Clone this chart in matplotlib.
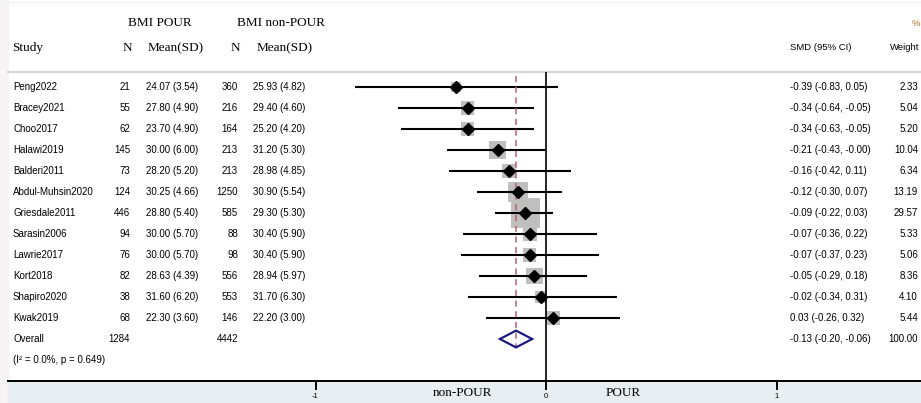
import numpy as np
import matplotlib
matplotlib.use('Agg')
import matplotlib.pyplot as plt
from matplotlib.patches import Polygon, Rectangle

# datos del forest plot
estudios = ["Peng2022", "Bracey2021", "Choo2017", "Halawi2019", "Balderi2011",
            "Abdul-Muhsin2020", "Griesdale2011", "Sarasin2006", "Lawrie2017",
            "Kort2018", "Shapiro2020", "Kwak2019"]
n_pour = [21, 55, 62, 145, 73, 124, 446, 94, 76, 82, 38, 68]
media_pour = [24.07, 27.80, 23.70, 30.00, 28.20, 30.25, 28.80, 30.00, 30.00, 28.63, 31.60, 22.30]
sd_pour = [3.54, 4.90, 4.90, 6.00, 5.20, 4.66, 5.40, 5.70, 5.70, 4.39, 6.20, 3.60]
n_non = [360, 216, 164, 213, 213, 1250, 585, 88, 98, 556, 553, 146]
media_non = [25.93, 29.40, 25.20, 31.20, 28.98, 30.90, 29.30, 30.40, 30.40, 28.94, 31.70, 22.20]
sd_non = [4.82, 4.60, 4.20, 5.30, 4.85, 5.54, 5.30, 5.90, 5.90, 5.97, 6.30, 3.00]
smd = [-0.39, -0.34, -0.34, -0.21, -0.16, -0.12, -0.09, -0.07, -0.07, -0.05, -0.02, 0.03]
ic_inf = [-0.83, -0.64, -0.63, -0.43, -0.42, -0.30, -0.22, -0.36, -0.37, -0.29, -0.34, -0.26]
ic_sup = [0.05, -0.05, -0.05, -0.004, 0.11, 0.07, 0.03, 0.22, 0.23, 0.18, 0.31, 0.32]
peso = [2.33, 5.04, 5.20, 10.04, 6.34, 13.19, 29.57, 5.33, 5.06, 8.36, 4.10, 5.44]

total_pour = 1284
total_non = 4442
smd_global = -0.13
ic_global = (-0.20, -0.06)
peso_global = 100.00
heterogeneidad = "(I² = 0.0%, p = 0.649)"
ticks_x = [-1, 0, 1]

W, H = 921, 403
X0, ESC = 546, 230.5     # pixel del 0 y pixeles por unidad SMD
Y0, PASO = 87, 21        # pixel de la primera fila y altura de fila


def fila(py):
    return (py - Y0) / PASO


def px(x):
    return x / W


fig = plt.figure(figsize=(W / 100, H / 100), dpi=100)
ax = fig.add_axes([0, 0, 1, 1])
ax.set_xlim(-X0 / ESC, (W - X0) / ESC)
ax.set_ylim(fila(H), fila(0))
ax.axis('off')
tr = ax.get_yaxis_transform()

serif = 'Liberation Serif'
sans = 'Liberation Sans'

# fondo: franja izquierda, banda inferior y lineas
ax.add_patch(Rectangle((0, 0), px(8), 1, transform=ax.transAxes, color='#f6f4f4', zorder=0))
ax.add_patch(Rectangle((px(8), fila(H)), 1, fila(381) - fila(H), transform=tr,
                       color='#e8eff2', zorder=0))
ax.plot([px(8), 1], [fila(381), fila(381)], transform=tr, color='black', lw=1.4, zorder=3)
ax.plot([px(8), 1], [fila(72), fila(72)], transform=tr, color='#d6d6d6', lw=1.6, zorder=1)
ax.plot([px(8), 1], [fila(2), fila(2)], transform=tr, color='#eef3f3', lw=1, zorder=1)

filas = np.arange(len(estudios))

# cuadrados grises segun el peso
lado = (2.15 + 4.94 * np.sqrt(peso)) * 0.72
ax.scatter(smd, filas, s=lado ** 2, marker='s', c='#bfbfbf', linewidths=0, zorder=1)

# intervalos de confianza
ax.hlines(filas, ic_inf, ic_sup, color='black', lw=1.5, zorder=2)

# linea en cero y linea del efecto global
ax.vlines(0, fila(72), fila(381), color='black', lw=1.2, zorder=3)
ax.vlines(smd_global, fila(76), fila(348), color='#b8606b', lw=1.1,
          linestyles=(0, (4, 3)), zorder=3)

# estimaciones puntuales
ax.plot(smd, filas, 'D', color='black', markersize=6, zorder=4)

# diamante global
fg = len(estudios)
h = 0.4
diamante = Polygon([(ic_global[0], fg), (smd_global, fg - h), (ic_global[1], fg),
                    (smd_global, fg + h)], closed=True, fill=False,
                   edgecolor='#1a1a80', lw=1.6, zorder=4)
ax.add_patch(diamante)

# encabezados
ax.text(px(160), fila(23), "BMI POUR", transform=tr, ha='center', va='center', family=serif, fontsize=9.5)
ax.text(px(281), fila(23), "BMI non-POUR", transform=tr, ha='center', va='center', family=serif, fontsize=9.5)
ax.text(px(12), fila(48), "Study", transform=tr, ha='left', va='center', family=serif, fontsize=9.5)
ax.text(px(127), fila(48), "N", transform=tr, ha='center', va='center', family=serif, fontsize=9.5)
ax.text(px(148), fila(48), "Mean(SD)", transform=tr, ha='left', va='center', family=serif, fontsize=9.5)
ax.text(px(235), fila(48), "N", transform=tr, ha='center', va='center', family=serif, fontsize=9.5)
ax.text(px(257), fila(48), "Mean(SD)", transform=tr, ha='left', va='center', family=serif, fontsize=9.5)
ax.text(px(790), fila(48), "SMD (95% CI)", transform=tr, ha='left', va='center', family=sans, fontsize=6.8)
ax.text(px(919), fila(48), "Weight", transform=tr, ha='right', va='center', family=sans, fontsize=6.8)
ax.text(px(912), fila(23), "%", transform=tr, ha='left', va='center', family=sans, fontsize=6.8,
        color='#b07020')

# filas de estudios
for i, est in enumerate(estudios):
    ax.text(px(13), i, est, transform=tr, ha='left', va='center', family=sans, fontsize=7)
    ax.text(px(130), i, str(n_pour[i]), transform=tr, ha='right', va='center', family=sans, fontsize=7)
    ax.text(px(146), i, f"{media_pour[i]:.2f} ({sd_pour[i]:.2f})", transform=tr, ha='left',
            va='center', family=sans, fontsize=7)
    ax.text(px(238), i, str(n_non[i]), transform=tr, ha='right', va='center', family=sans, fontsize=7)
    ax.text(px(253), i, f"{media_non[i]:.2f} ({sd_non[i]:.2f})", transform=tr, ha='left',
            va='center', family=sans, fontsize=7)
    ax.text(px(790), i, f"{smd[i]:.2f} ({ic_inf[i]:.2f}, {ic_sup[i]:.2f})", transform=tr,
            ha='left', va='center', family=sans, fontsize=7)
    ax.text(px(918), i, f"{peso[i]:.2f}", transform=tr, ha='right', va='center', family=sans,
            fontsize=7)

# fila global
ax.text(px(13), fg, "Overall", transform=tr, ha='left', va='center', family=sans, fontsize=7)
ax.text(px(130), fg, str(total_pour), transform=tr, ha='right', va='center', family=sans, fontsize=7)
ax.text(px(238), fg, str(total_non), transform=tr, ha='right', va='center', family=sans, fontsize=7)
ax.text(px(790), fg, f"{smd_global:.2f} ({ic_global[0]:.2f}, {ic_global[1]:.2f})", transform=tr,
        ha='left', va='center', family=sans, fontsize=7)
ax.text(px(918), fg, f"{peso_global:.2f}", transform=tr, ha='right', va='center', family=sans, fontsize=7)
ax.text(px(13), fg + 1, heterogeneidad, transform=tr, ha='left', va='center', family=sans, fontsize=7)

# eje inferior
ax.vlines(ticks_x, fila(381), fila(390), color='black', lw=1.4, zorder=3)
for t in ticks_x:
    ax.text(t, fila(393), str(t), ha='center', va='top', family=sans, fontsize=5.5)
ax.text(px(462), fila(393), "non-POUR", transform=tr, ha='center', va='center', family=serif, fontsize=9.5)
ax.text(px(623), fila(393), "POUR", transform=tr, ha='center', va='center', family=serif, fontsize=9.5)

fig.savefig('out.png', dpi=100)
